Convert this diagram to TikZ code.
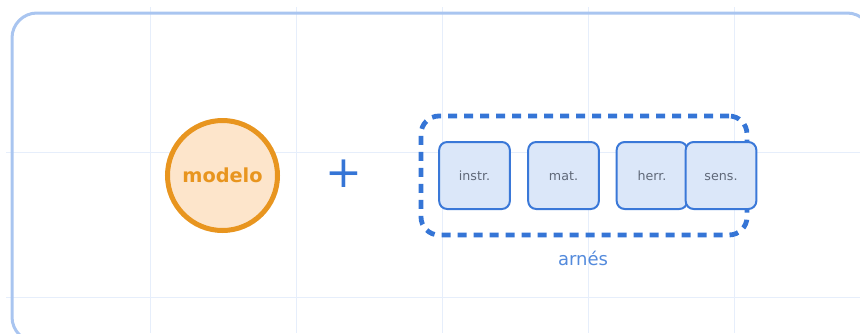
\documentclass[tikz,border=0pt]{standalone}
\usepackage{fontspec}
\setmainfont{DejaVu Sans}

\definecolor{gridblue}{HTML}{E6EEFB}
\definecolor{frameblue}{HTML}{A9C5F0}
\definecolor{harnessblue}{HTML}{3575D6}
\definecolor{partfill}{HTML}{DBE7F9}
\definecolor{partdraw}{HTML}{3A78D8}
\definecolor{parttext}{HTML}{5F6878}
\definecolor{modelorange}{HTML}{E8951F}
\definecolor{modelfill}{HTML}{FDE5CB}

\tikzset{
	gridline/.style = {draw=gridblue, line width=0.75pt},
	outerframe/.style = {draw=frameblue, line width=2.25pt, rounded corners=18.75pt},
	model/.style = {circle, draw=modelorange, fill=modelfill, line width=3.75pt,
		minimum size=82.5pt, inner sep=0pt, text=modelorange, font=\fontsize{14.5}{16}\selectfont\bfseries},
	plussign/.style = {text=harnessblue, inner sep=0pt, font=\fontsize{33}{36}\selectfont},
	harness/.style = {draw=harnessblue, line width=3.6pt, dash pattern=on 6.75pt off 5.25pt,
		rounded corners=13.5pt, minimum width=244.5pt, minimum height=89.25pt, inner sep=0pt},
	part/.style = {draw=partdraw, fill=partfill, line width=1.5pt, rounded corners=6pt,
		minimum width=53pt, minimum height=50.25pt, inner sep=0pt,
		text height=1.6ex, text depth=0.2ex,
		text=parttext, font=\fontsize{9.5}{11}\selectfont},
	caption/.style = {text=harnessblue!85!white, inner sep=0pt, font=\fontsize{13.5}{15}\selectfont}
}

\begin{document}
\begin{tikzpicture}[x=0.75pt, y=-0.75pt]
	\useasboundingbox (0,0) rectangle (860,333);
	\clip (0,0) rectangle (860,333);

	% background grid
	\foreach \gx in {150,296,442,588,734}
		\draw[gridline] (\gx,7) -- (\gx,333);
	\foreach \gy in {152,297}
		\draw[gridline] (6,\gy) -- (860,\gy);

	\draw[outerframe] (12,13) rectangle (872,342);

	% model + harness
	\node [model] (modelo) at (222.5,175.5) {modelo};
	\node [plussign] (plus) at (344,174) {+};

	\node [harness] (arnes) at (584,175.5) {};
	\node [part] (instr) at (474.5,175.5) {instr.};
	\node [part] (mat) at (563.5,175.5) {mat.};
	\node [part] (herr) at (652,175.5) {herr.};
	\node [part] (sens) at (721,175.5) {sens.};
	\node [caption] (arneslabel) at (583,258) {arnés};
\end{tikzpicture}
\end{document}
